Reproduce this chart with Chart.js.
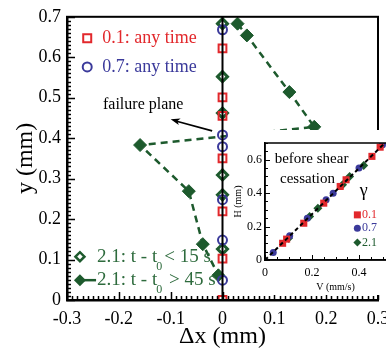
<!DOCTYPE html>
<html>
<head>
<meta charset="utf-8">
<script src="https://cdn.jsdelivr.net/npm/chart.js@4.4.1/dist/chart.umd.min.js"></script>
<style>
  html, body { margin: 0; padding: 0; background: #fff; overflow: hidden; }
  #main { display: block; }
  #inset { position: absolute; left: 232px; top: 130px; background: #fff; }
</style>
</head>
<body>
<canvas id="main" width="386" height="354"></canvas>
<canvas id="inset" width="190" height="165"></canvas>
<script>
// Colours / fonts
const SERIF = "'Liberation Serif', 'DejaVu Serif', serif";
const RED = '#e2282c';
const BLUE = '#3b3a9b';
const GREEN = '#1d5a2d';
const GREEN_TXT = '#2e6b3d';

// Main plot: gamma 0.1 and 0.7 (any time) and 2.1 early, all sit on dx = 0
const redX = [0, 0, 0, 0, 0, 0, 0];
const redY = [0.622, 0.501, 0.455, 0.350, 0.219, 0.102, 0.0];
const blueX = [0, 0, 0, 0, 0, 0];
const blueY = [0.668, 0.408, 0.379, 0.248, 0.148, 0.049];
const earlyX = [0, 0, 0, 0, 0, 0];
const earlyY = [0.683, 0.552, 0.462, 0.309, 0.260, 0.126];
// gamma 2.1, t - t0 > 45 s
const lateX = [0.029, 0.047, 0.129, 0.177, -0.159, -0.065, -0.038, -0.008];
const lateY = [0.683, 0.654, 0.514, 0.428, 0.383, 0.269, 0.138, 0.061];
// reference line dx = 0
const zeroLineX = [0, 0];
const zeroLineY = [0, 0.7];

const xTicks = [-0.3, -0.2, -0.1, 0, 0.1, 0.2, 0.3];
const yTicks = [0, 0.1, 0.2, 0.3, 0.4, 0.5, 0.6, 0.7];

// Inset: H vs V before shear cessation
const insRedV = [0.075, 0.092, 0.165, 0.25, 0.32, 0.345, 0.455, 0.49];
const insRedH = [0.10, 0.125, 0.22, 0.34, 0.44, 0.48, 0.62, 0.675];
const insBlueV = [0.035, 0.105, 0.18, 0.26, 0.29, 0.40, 0.50];
const insBlueH = [0.045, 0.145, 0.25, 0.36, 0.40, 0.55, 0.69];
const insGreenV = [0.10, 0.19, 0.225, 0.33, 0.36, 0.42];
const insGreenH = [0.13, 0.26, 0.31, 0.45, 0.50, 0.565];
const insFitV = [0, 0.51];
const insFitH = [0, 0.70];
const insXTicks = [0, 0.2, 0.4];
const insYTicks = [0, 0.2, 0.4, 0.6];

function pts(xs, ys) {
  return xs.map((x, i) => ({ x: x, y: ys[i] }));
}
function fmt(v) {
  return String(Math.round(v * 10) / 10);
}

// box frame plus inward major + minor ticks
function drawFrame(chart, cfg) {
  const ctx = chart.ctx;
  const a = chart.chartArea;
  const x = chart.scales.x;
  const y = chart.scales.y;
  ctx.save();
  ctx.strokeStyle = '#000';
  ctx.lineWidth = cfg.frameWidth;
  ctx.strokeRect(a.left, a.top, a.right - a.left, a.bottom - a.top);

  ctx.lineWidth = cfg.tickWidth;
  const isMajor = (v, step) => Math.abs(v / step - Math.round(v / step)) < 1e-6;
  let n = Math.round((x.max - x.min) / cfg.xMinor);
  for (let i = 0; i <= n; i++) {
    const v = x.min + i * cfg.xMinor;
    const px = Math.round(x.getPixelForValue(v)) + 0.5;
    const len = isMajor(v, cfg.xMajor) ? cfg.majorLen : cfg.minorLen;
    ctx.beginPath();
    ctx.moveTo(px, a.bottom);
    ctx.lineTo(px, a.bottom - len);
    ctx.stroke();
  }
  n = Math.round((y.max - y.min) / cfg.yMinor);
  for (let i = 0; i <= n; i++) {
    const v = y.min + i * cfg.yMinor;
    const py = Math.round(y.getPixelForValue(v)) + 0.5;
    const len = isMajor(v, cfg.yMajor) ? cfg.majorLen : cfg.minorLen;
    ctx.beginPath();
    ctx.moveTo(a.left, py);
    ctx.lineTo(a.left + len, py);
    ctx.stroke();
  }
  ctx.restore();
}

function diamond(ctx, cx, cy, r) {
  ctx.beginPath();
  ctx.moveTo(cx - r, cy);
  ctx.lineTo(cx, cy - r);
  ctx.lineTo(cx + r, cy);
  ctx.lineTo(cx, cy + r);
  ctx.closePath();
}

// frame, legends and labels of the main plot
const mainDecor = {
  id: 'mainDecor',
  afterDraw(chart) {
    drawFrame(chart, { frameWidth: 2, tickWidth: 1.5, xMinor: 0.01, xMajor: 0.1, yMinor: 0.01, yMajor: 0.1, majorLen: 8, minorLen: 4 });

    const { ctx, scales: { x, y } } = chart;
    const X = v => x.getPixelForValue(v);
    const Y = v => y.getPixelForValue(v);
    ctx.save();
    ctx.textBaseline = 'middle';
    ctx.textAlign = 'left';

    // 0.1 / 0.7 legend
    ctx.lineWidth = 2;
    ctx.strokeStyle = RED;
    ctx.strokeRect(X(-0.261) - 4, Y(0.647) - 4, 8, 8);
    ctx.font = '18px ' + SERIF;
    ctx.fillStyle = RED;
    ctx.fillText('0.1: any time', X(-0.232), Y(0.647));
    ctx.strokeStyle = BLUE;
    ctx.beginPath();
    ctx.arc(X(-0.261), Y(0.576), 4.5, 0, Math.PI * 2);
    ctx.stroke();
    ctx.fillStyle = BLUE;
    ctx.fillText('0.7: any time', X(-0.232), Y(0.576));

    // failure plane arrow
    ctx.fillStyle = '#000';
    ctx.font = '16px ' + SERIF;
    ctx.textAlign = 'center';
    ctx.fillText('failure plane', X(-0.153), Y(0.482));
    const x0 = X(-0.020), y0 = Y(0.418), x1 = X(-0.100), y1 = Y(0.447);
    ctx.strokeStyle = '#000';
    ctx.lineWidth = 1.6;
    ctx.beginPath();
    ctx.moveTo(x0, y0);
    ctx.lineTo(x1 + 6, y1 + 2);
    ctx.stroke();
    const ang = Math.atan2(y1 - y0, x1 - x0);
    ctx.beginPath();
    ctx.moveTo(x1, y1);
    ctx.lineTo(x1 - 10 * Math.cos(ang - 0.35), y1 - 10 * Math.sin(ang - 0.35));
    ctx.lineTo(x1 - 7 * Math.cos(ang), y1 - 7 * Math.sin(ang));
    ctx.lineTo(x1 - 10 * Math.cos(ang + 0.35), y1 - 10 * Math.sin(ang + 0.35));
    ctx.closePath();
    ctx.fill();

    // 2.1 legend
    ctx.textAlign = 'left';
    const lx = X(-0.275), tx = X(-0.242);
    const ya = Y(0.107), yb = Y(0.049);
    ctx.strokeStyle = GREEN;
    ctx.lineWidth = 2.5;
    ctx.fillStyle = '#fff';
    diamond(ctx, lx, ya, 4.5);
    ctx.fill();
    ctx.stroke();
    ctx.beginPath();
    ctx.moveTo(lx, yb);
    ctx.lineTo(tx - 1, yb);
    ctx.stroke();
    ctx.fillStyle = GREEN;
    diamond(ctx, lx, yb, 6);
    ctx.fill();

    ctx.fillStyle = GREEN_TXT;
    const lines = [[ya, '< 15 s'], [yb, ' > 45 s']];
    lines.forEach(([yy, tail]) => {
      ctx.font = '19px ' + SERIF;
      const head = '2.1: t - t';
      ctx.fillText(head, tx, yy);
      const w = ctx.measureText(head).width;
      ctx.font = '12px ' + SERIF;
      ctx.fillText('0', tx + w - 1, yy + 10);
      const ws = ctx.measureText('0').width;
      ctx.font = '19px ' + SERIF;
      ctx.fillText(tail, tx + w + ws + 1, yy);
    });
    ctx.restore();
  }
};

const insetDecor = {
  id: 'insetDecor',
  afterDraw(chart) {
    drawFrame(chart, { frameWidth: 1.5, tickWidth: 1, xMinor: 0.05, xMajor: 0.2, yMinor: 0.05, yMajor: 0.2, majorLen: 5, minorLen: 3 });

    const { ctx, scales: { x, y } } = chart;
    const X = v => x.getPixelForValue(v);
    const Y = v => y.getPixelForValue(v);
    ctx.save();
    ctx.textBaseline = 'middle';
    ctx.textAlign = 'center';
    ctx.fillStyle = '#000';
    ctx.font = '15px ' + SERIF;
    ctx.fillText('before shear', X(0.198), Y(0.605));
    ctx.fillText('cessation', X(0.181), Y(0.485));
    ctx.font = '18px ' + SERIF;
    ctx.fillText('\u03b3', X(0.42), Y(0.41));

    ctx.textAlign = 'left';
    ctx.font = '12px ' + SERIF;
    const mx = X(0.393), tx = X(0.413);
    ctx.fillStyle = RED;
    ctx.fillRect(mx - 3.5, Y(0.27) - 3.5, 7, 7);
    ctx.fillText('0.1', tx, Y(0.27));
    ctx.fillStyle = BLUE;
    ctx.beginPath();
    ctx.arc(mx, Y(0.19), 3.5, 0, Math.PI * 2);
    ctx.fill();
    ctx.fillText('0.7', tx, Y(0.19));
    ctx.fillStyle = GREEN;
    diamond(ctx, mx, Y(0.105), 4);
    ctx.fill();
    ctx.fillText('2.1', tx, Y(0.105));
    ctx.restore();
  }
};

new Chart(document.getElementById('main'), {
  type: 'scatter',
  data: {
    datasets: [
      {
        type: 'line',
        data: pts(zeroLineX, zeroLineY),
        borderColor: '#000',
        borderWidth: 2,
        pointRadius: 0,
        fill: false
      },
      {
        data: pts(redX, redY),
        pointStyle: 'rect',
        pointRadius: 5.5,
        borderColor: RED,
        backgroundColor: 'rgba(0,0,0,0)',
        borderWidth: 2
      },
      {
        data: pts(blueX, blueY),
        pointStyle: 'circle',
        pointRadius: 4.5,
        borderColor: BLUE,
        backgroundColor: 'rgba(0,0,0,0)',
        borderWidth: 2
      },
      {
        data: pts(earlyX, earlyY),
        pointStyle: 'rectRot',
        pointRadius: 5,
        borderColor: GREEN,
        backgroundColor: '#fff',
        borderWidth: 3
      },
      {
        type: 'line',
        data: pts(lateX, lateY),
        borderColor: GREEN,
        borderWidth: 2.5,
        borderDash: [7, 5],
        pointStyle: 'rectRot',
        pointRadius: 6.5,
        pointBackgroundColor: GREEN,
        pointBorderColor: GREEN,
        pointBorderWidth: 1,
        tension: 0,
        fill: false
      }
    ]
  },
  options: {
    responsive: false,
    animation: false,
    layout: { padding: { top: 12, right: 8, left: 0, bottom: 0 } },
    plugins: { legend: { display: false }, tooltip: { enabled: false } },
    scales: {
      x: {
        type: 'linear',
        min: -0.3,
        max: 0.3,
        afterBuildTicks: s => { s.ticks = xTicks.map(v => ({ value: v })); },
        afterFit: s => { s.height = 54; s.paddingRight = 0; },
        grid: { display: false, drawTicks: false },
        border: { display: true, color: '#000', width: 2.5 },
        ticks: { color: '#000', font: { family: SERIF, size: 18 }, padding: 8, maxRotation: 0, callback: fmt },
        title: { display: true, text: '\u0394x (mm)', color: '#000', font: { family: SERIF, size: 24 }, padding: { top: 0, bottom: 3 } }
      },
      y: {
        type: 'linear',
        min: 0,
        max: 0.7,
        afterBuildTicks: s => { s.ticks = yTicks.map(v => ({ value: v })); },
        afterFit: s => { s.width = 67; },
        grid: { display: false, drawTicks: false },
        border: { display: true, color: '#000', width: 2.5 },
        ticks: { color: '#000', font: { family: SERIF, size: 18 }, padding: 6, callback: fmt },
        title: { display: true, text: 'y (mm)', color: '#000', font: { family: SERIF, size: 24 }, padding: { top: 11, bottom: 0 } }
      }
    }
  },
  plugins: [mainDecor]
});

new Chart(document.getElementById('inset'), {
  type: 'scatter',
  data: {
    datasets: [
      {
        type: 'line',
        data: pts(insFitV, insFitH),
        borderColor: '#000',
        borderWidth: 2,
        borderDash: [4, 3],
        pointRadius: 0,
        fill: false
      },
      {
        data: pts(insRedV, insRedH),
        pointStyle: 'rect',
        pointRadius: 5,
        backgroundColor: RED,
        borderColor: RED,
        borderWidth: 0
      },
      {
        data: pts(insBlueV, insBlueH),
        pointStyle: 'circle',
        pointRadius: 3.5,
        backgroundColor: BLUE,
        borderColor: BLUE,
        borderWidth: 0
      },
      {
        data: pts(insGreenV, insGreenH),
        pointStyle: 'rectRot',
        pointRadius: 4.5,
        backgroundColor: GREEN,
        borderColor: GREEN,
        borderWidth: 0
      }
    ]
  },
  options: {
    responsive: false,
    animation: false,
    layout: { padding: { top: 13, right: 16, left: 0, bottom: 0 } },
    plugins: { legend: { display: false }, tooltip: { enabled: false } },
    scales: {
      x: {
        type: 'linear',
        min: 0,
        max: 0.6,
        afterBuildTicks: s => { s.ticks = insXTicks.map(v => ({ value: v })); },
        afterFit: s => { s.height = 35; },
        grid: { display: false, drawTicks: false },
        border: { display: true, color: '#000', width: 1.5 },
        ticks: { color: '#000', font: { family: SERIF, size: 12 }, padding: 6, maxRotation: 0, callback: fmt },
        title: { display: true, text: 'V (mm/s)', color: '#000', font: { family: SERIF, size: 10 }, padding: { top: 0, bottom: 2 } }
      },
      y: {
        type: 'linear',
        min: 0,
        max: 0.7,
        afterBuildTicks: s => { s.ticks = insYTicks.map(v => ({ value: v })); },
        afterFit: s => { s.width = 33; },
        grid: { display: false, drawTicks: false },
        border: { display: true, color: '#000', width: 1.5 },
        ticks: { color: '#000', font: { family: SERIF, size: 12 }, padding: 3, callback: fmt },
        title: { display: true, text: 'H (mm)', color: '#000', font: { family: SERIF, size: 10 }, padding: { top: 0, bottom: 0 } }
      }
    }
  },
  plugins: [insetDecor]
});
</script>
</body>
</html>
